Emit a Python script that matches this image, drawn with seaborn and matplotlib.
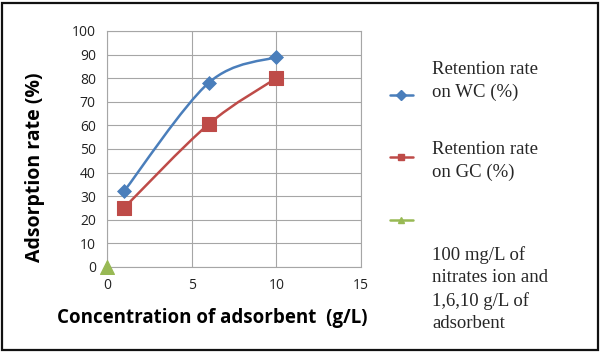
import matplotlib
matplotlib.use("Agg")
import matplotlib.pyplot as plt
import numpy as np
import pandas as pd
import seaborn as sns
from matplotlib.path import Path
from matplotlib.patches import PathPatch, Rectangle
from matplotlib.lines import Line2D

# data
dose = [1, 6, 10]
wc_rate = [32, 78, 89]
gc_rate = [25, 60.5, 80]
ref_x = [0]
ref_y = [0]

labels = ["Retention rate\non WC (%)",
          "Retention rate\non GC (%)",
          "100 mg/L of\nnitrates ion and\n1,6,10 g/L of\nadsorbent"]

blue = "#4A7EBB"
red = "#BE4B48"
green = "#98B954"
grid_c = "#A6A6A6"

sns.set_style("white")
plt.rcParams["font.family"] = ["Open Sans", "DejaVu Sans"]

fig = plt.figure(figsize=(6.01, 3.52), dpi=100)
ax = fig.add_axes([0.178, 0.2415, 0.4227, 0.6705])


def smooth_path(xs, ys):
    # Excel-like smoothed line: cubic bezier through the points
    pts = np.column_stack([xs, ys]).astype(float)
    ext = np.vstack([pts[0], pts, pts[-1]])
    verts = [pts[0]]
    codes = [Path.MOVETO]
    for i in range(len(pts) - 1):
        p0, p1, p2, p3 = ext[i], ext[i + 1], ext[i + 2], ext[i + 3]
        c1 = p1 + (p2 - p0) / 6
        c2 = p2 - (p3 - p1) / 6
        verts += [c1, c2, p2]
        codes += [Path.CURVE4] * 3
    return Path(verts, codes)


for ys, col in [(wc_rate, blue), (gc_rate, red)]:
    ax.add_patch(PathPatch(smooth_path(dose, ys), facecolor="none",
                           edgecolor=col, lw=1.8, zorder=3))

df = pd.DataFrame({"dose": dose, "wc": wc_rate, "gc": gc_rate})
sns.scatterplot(data=df, x="dose", y="wc", marker="D", s=50, color=blue,
                edgecolor=blue, ax=ax, zorder=4)
sns.scatterplot(data=df, x="dose", y="gc", marker="s", s=95, color=red,
                edgecolor=red, ax=ax, zorder=4)
sns.scatterplot(x=ref_x, y=ref_y, marker="^", s=100, color=green,
                edgecolor=green, ax=ax, zorder=4, clip_on=False)

ax.set_xlim(0, 15)
ax.set_ylim(0, 100)
ax.set_xticks([0, 5, 10, 15])
ax.set_yticks(range(0, 101, 10))
ax.grid(True, color=grid_c, lw=0.8)
for s in ax.spines.values():
    s.set_color(grid_c)
    s.set_linewidth(0.8)
ax.tick_params(axis="both", direction="out", length=4, width=0.8,
               color=grid_c, labelsize=10, labelcolor="#222222", pad=4)

ax.set_xlabel("Concentration of adsorbent  (g/L)", fontsize=13.5,
              fontweight="bold", color="black")
ax.xaxis.set_label_coords(0.415, -0.175)
ax.set_ylabel("Adsorption rate (%)", fontsize=14, fontweight="bold",
              color="black")
ax.yaxis.set_label_coords(-0.245, 0.424)

# legend, laid out by hand like the original
handle_y = [95, 157, 220]
text_top = [61, 141, 246]
for hy, ty, col, mk, lab in zip(handle_y, text_top, [blue, red, green],
                                ["D", "s", "^"], labels):
    fy = 1 - hy / 352
    fig.add_artist(Line2D([390 / 601, 401 / 601, 413 / 601], [fy, fy, fy],
                          color=col, lw=1.8, marker=mk, markevery=[1],
                          markersize=5, transform=fig.transFigure))
    fig.text(432 / 601, 1 - ty / 352, lab, fontsize=13.5, va="top",
             ha="left", family="Liberation Serif", linespacing=1.42)

fig.add_artist(Rectangle((0.004, 0.006), 0.991, 0.986, fill=False,
                         edgecolor="#111111", lw=1.6,
                         transform=fig.transFigure))

fig.savefig("out.png", dpi=100)
